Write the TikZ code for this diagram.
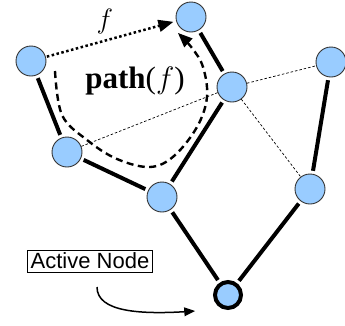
\RequirePackage{fix-cm}
\documentclass[tikz,border=0pt]{standalone}
\usepackage{fontspec}
\setmainfont{Liberation Serif}
\setsansfont{Liberation Sans}
\usetikzlibrary{arrows}
\usetikzlibrary{calc}
\definecolor{nodeblue}{RGB}{153,204,255}
\tikzset{
  vert/.style={circle, fill=nodeblue, draw=black!80, line width=0.9pt, minimum size=30pt, inner sep=0pt},
  actvert/.style={vert, draw=black, line width=4pt, minimum size=26pt},
  tree/.style={line width=4pt, shorten >=3pt, shorten <=3pt},
  cross/.style={line width=0.7pt, dash pattern=on 2.5pt off 2pt},
}
\begin{document}
\begin{tikzpicture}[x=1pt,y=-1pt]
\useasboundingbox (0,0) rectangle (345,325);

\node[vert] (topl) at (31,61) {};
\node[vert] (top) at (191,17) {};
\node[vert] (hub) at (232,87) {};
\node[vert] (farr) at (331,62) {};
\node[vert] (midl) at (67,152) {};
\node[vert] (cen) at (162,197) {};
\node[vert] (botr) at (310,189) {};
\node[actvert] (act) at (228,295) {};

% thick tree edges
\draw[tree] (topl) -- (midl);
\draw[tree] (midl) -- (cen);
\draw[tree] (cen) -- (hub);
\draw[tree] (hub) -- (top);
\draw[tree] (farr) -- (botr);
\draw[tree] (cen) -- (act);
\draw[tree] (botr) -- (act);

% cross edges
\draw[cross] (midl) -- (hub);
\draw[cross] (hub) -- (farr);
\draw[cross] (hub) -- (botr);

\draw[line width=2.5pt, dash pattern=on 2.5pt off 2.5pt, -triangle 45, shorten >=3pt, shorten <=1pt] (topl) -- (top)
  node[midway, above=0pt, xshift=-6pt] {\fontsize{28}{32}\selectfont$f$};

\draw[line width=2.4pt, dash pattern=on 7pt off 4.5pt, -triangle 45] plot [smooth, tension=.6] coordinates { (55,71) (62,115) (87,140) (117,159) (150,167) (174,156) (197,127) (207,97) (203,67) (192,48) (178,33)};

\node (pathf) at (135,81) {\fontsize{31}{35}\selectfont\textbf{path}($f$)};

\node[draw, line width=0.8pt, inner sep=3pt, font=\sffamily\fontsize{22}{25}\selectfont] (lbl) at (90,261) {Active Node};
\coordinate (from) at (97,287);
\coordinate (to) at (195,311);
\draw[line width=1.5pt, -triangle 45] (from) .. controls (97,312) and (140,315) .. (to);

\end{tikzpicture}
\end{document}
